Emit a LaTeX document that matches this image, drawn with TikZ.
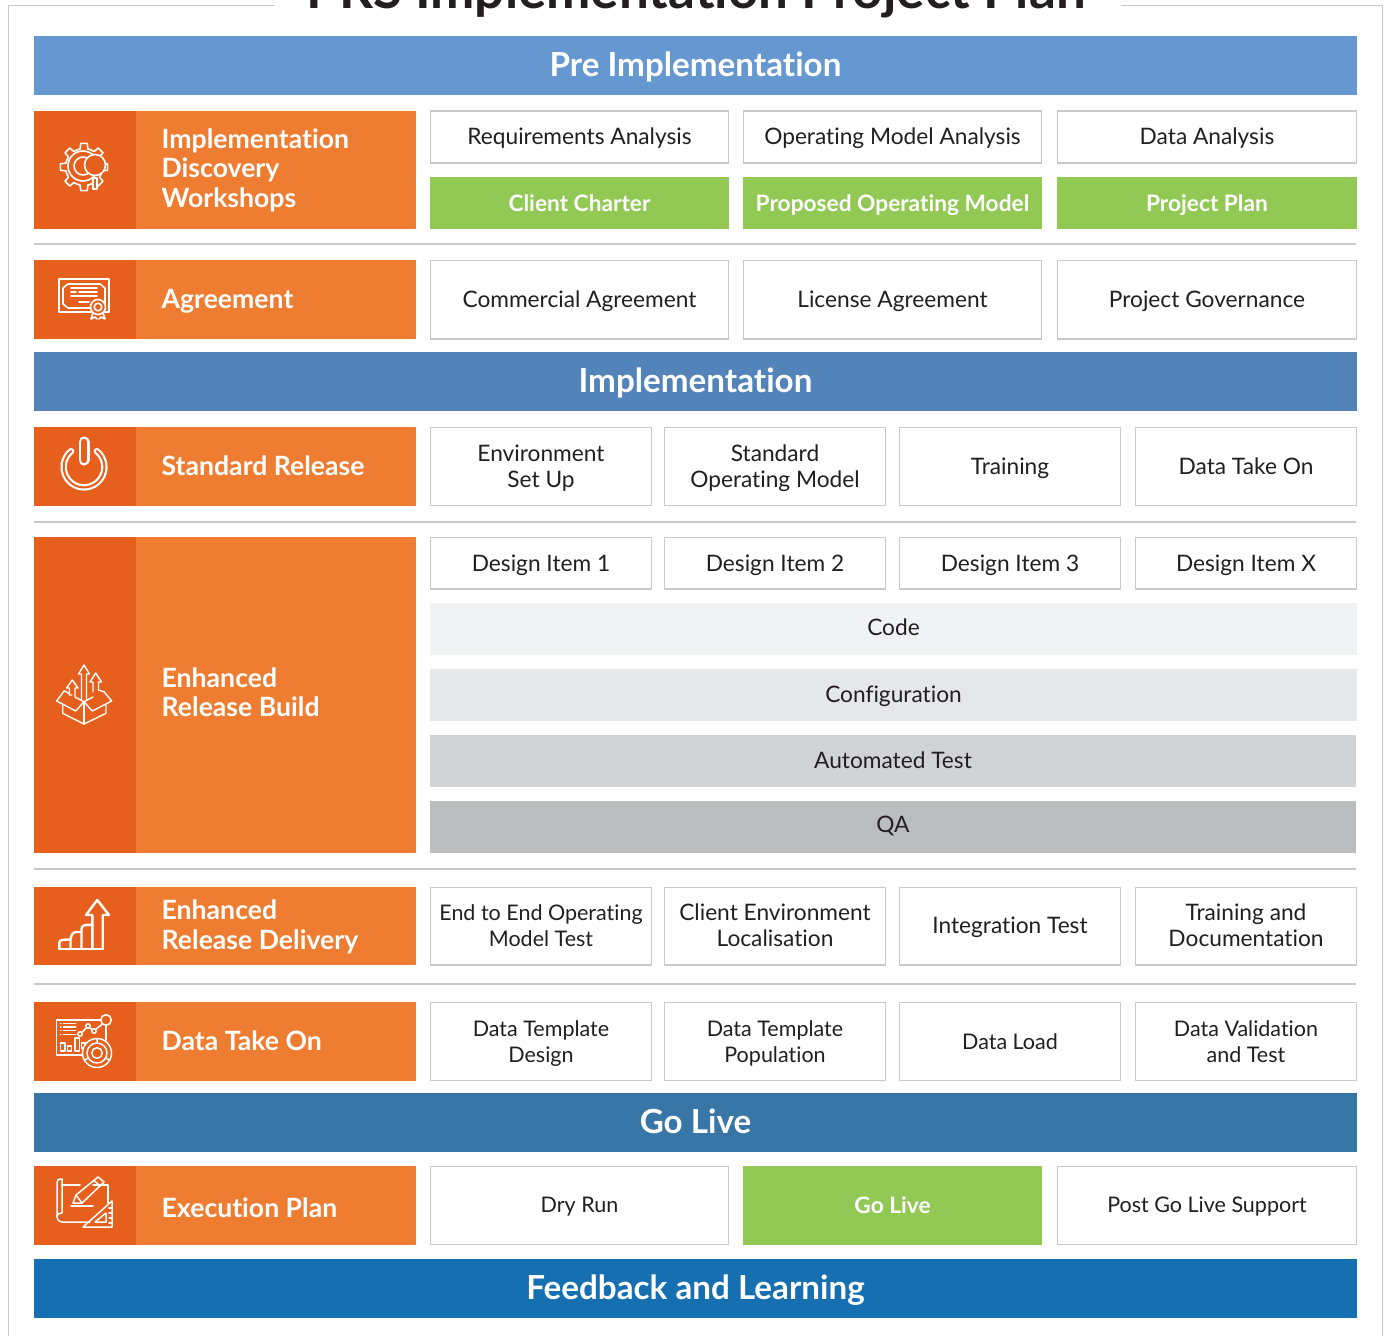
\documentclass[tikz,border=0pt]{standalone}
\usepackage{fontspec}
\setmainfont[Ligatures=NoCommon]{Lato}
\usetikzlibrary{calc}
\definecolor{dk}{HTML}{E75F1C}
\definecolor{org}{HTML}{EF7D31}
\definecolor{grn}{HTML}{92C954}
\definecolor{txt}{HTML}{231F20}
\definecolor{fr}{HTML}{C9CACC}
\definecolor{bl}{HTML}{C8C9CB}
\tikzset{
 strutted/.style 2 args={execute at begin node=\rule{0pt}{#1pt},execute at end node=\rule[-#2pt]{0pt}{#2pt}},
 cell/.style={draw=fr,line width=1.2pt,fill=white,text=txt,font=\fontsize{22.7}{26}\selectfont,align=center,inner sep=0pt,strutted={22}{6}},
 cellsm/.style={cell,font=\fontsize{21.5}{26}\selectfont},
 upper/.style={strutted={0}{8}},
 twol/.style={text=txt,font=\fontsize{22.7}{26}\selectfont,align=center,inner sep=0pt},
 twolsm/.style={twol,font=\fontsize{21.5}{26}\selectfont},
 grnc/.style={fill=grn,text=white,font=\fontsize{22.7}{26}\selectfont\bfseries,align=center,inner sep=0pt,strutted={23}{6}},
 gcell/.style={text=txt,font=\fontsize{22.7}{26}\selectfont,align=center,inner sep=0pt},
 band/.style={text=white,font=\fontsize{33.2}{36}\selectfont\bfseries,align=center,inner sep=0pt,strutted={29}{7}},
 dkb/.style={fill=dk,inner sep=0pt},
 orgb/.style={fill=org,inner sep=0pt},
 lab/.style={text=white,font=\fontsize{26.6}{29.6}\selectfont\bfseries,align=left,anchor=west,inner sep=0pt,strutted={26}{6}},
 sep/.style={draw=bl,line width=1.5pt},
 ic/.style={draw=white,line width=1.6pt,line join=round,line cap=round},
}
% \bx{name}{x0}{y0}{x1}{y1}{style}{text}
\newcommand{\bx}[7]{\pgfmathsetmacro{\bw}{#4-#2}\pgfmathsetmacro{\bh}{#5-#3}
 \node[#6,minimum width=\bw pt,minimum height=\bh pt] (#1) at ($(#2,#3)!.5!(#4,#5)$) {#7};}
\newcommand{\tline}[2]{\raisebox{#1}[0pt][0pt]{#2}}
% two-line cell: box, then its text as a node of its own, set from the last baseline
% \bxt{name}{x0}{x1}{y0}{y1}{text style}{last baseline y}{text}
\newcommand{\bxt}[8]{\bx{#1}{#2}{#4}{#3}{#5}{cell}{}
 \node[#6,anchor=base] (#1-t) at ($(#2,#7)!.5!(#3,#7)$) {#8};}
\begin{document}
\begin{tikzpicture}[x=1pt,y=-1pt]
\useasboundingbox (0,0) rectangle (1387,1336);
\clip (0,0) rectangle (1387,1336);
\fill[white] (0,0) rectangle (1387,1336);
% frame
\draw[draw=fr,line width=1.3pt] (275,5.5) -- (8.5,5.5) -- (8.5,1340);
\draw[draw=fr,line width=1.3pt] (1121,5.5) -- (1382.5,5.5) -- (1382.5,1340);
\node[text=txt,font=\fontsize{53}{53}\selectfont\bfseries,anchor=base,inner sep=0pt] (title) at (696,8) {PRS Implementation Project Plan};
% bands
\bx{b1}{34}{36}{1357}{95}{band,fill={rgb,255:red,101;green,151;blue,208}}{Pre Implementation}
\bx{b2}{34}{352}{1357}{411}{band,fill={rgb,255:red,82;green,132;blue,185}}{Implementation}
\bx{b3}{34}{1093}{1357}{1152}{band,fill={rgb,255:red,56;green,118;blue,167}}{Go Live}
\bx{b4}{34}{1259}{1357}{1318}{band,fill={rgb,255:red,21;green,111;blue,177}}{Feedback and Learning}
% separators
\draw[sep] (34,244) -- (1356,244);
\draw[sep] (34,522) -- (1356,522);
\draw[sep] (34,869) -- (1356,869);
\draw[sep] (34,984) -- (1356,984);
% left rows
\newcommand{\rowl}[5]{\bx{o#1}{136}{#2}{416}{#3}{orgb}{}\bx{d#1}{34}{#2}{136}{#3}{dkb}{}
 \node[lab] (l#1) at (161.5,#4) {#5};}
\rowl{a}{111}{229}{171}{Implementation\\Discovery\\Workshops}
\rowl{b}{260}{339}{298}{Agreement}
\rowl{c}{427}{506}{465}{Standard Release}
\rowl{d}{537}{853}{695}{Enhanced\\Release Build}
\rowl{e}{887}{965}{927.5}{Enhanced\\Release Delivery}
\rowl{f}{1002}{1081}{1040}{Data Take On}
\rowl{g}{1166}{1245}{1207}{Execution Plan}
% three-col
\bx{a1}{430.5}{111}{728.5}{163}{cell,upper}{Requirements Analysis}
\bx{a2}{743.5}{111}{1041.5}{163}{cell,upper}{Operating Model Analysis}
\bx{a3}{1057.5}{111}{1356.5}{163}{cell,upper}{Data Analysis}
\bx{a4}{430}{177}{729}{229}{grnc}{Client Charter}
\bx{a5}{743}{177}{1042}{229}{grnc}{Proposed Operating Model}
\bx{a6}{1057}{177}{1357}{229}{grnc}{Project Plan}
\bx{g1}{430.5}{260.5}{728.5}{339}{cell}{Commercial Agreement}
\bx{g2}{743.5}{260.5}{1041.5}{339}{cell}{License Agreement}
\bx{g3}{1057.5}{260.5}{1356.5}{339}{cell}{Project Governance}
% four-col
\bxt{sa}{430.5}{651.5}{427.5}{505.5}{twol}{487}{Environment\\Set Up}
\bxt{sb}{664.5}{885.5}{427.5}{505.5}{twol}{487}{Standard\\Operating Model}
\bx{sc}{899.5}{427.5}{1120.5}{505.5}{cell}{Training}
\bx{sd}{1135.5}{427.5}{1356.5}{505.5}{cell}{Data Take On}
\bx{ta}{430.5}{537.5}{651.5}{589}{cell}{Design Item 1}
\bx{tb}{664.5}{537.5}{885.5}{589}{cell}{Design Item 2}
\bx{tc}{899.5}{537.5}{1120.5}{589}{cell}{Design Item 3}
\bx{td}{1135.5}{537.5}{1356.5}{589}{cell}{Design Item X}
\bxt{ua}{430.5}{651.5}{887.5}{965}{twolsm}{946}{End to End Operating\\Model Test}
\bxt{ub}{664.5}{885.5}{887.5}{965}{twol}{946}{Client Environment\\Localisation}
\bx{uc}{899.5}{887.5}{1120.5}{965}{cell,upper}{Integration Test}
\bxt{ud}{1135.5}{1356.5}{887.5}{965}{twol}{946}{Training and\\Documentation}
\bxt{va}{430.5}{651.5}{1002.5}{1080.5}{twolsm}{1062}{Data Template\\Design}
\bxt{vb}{664.5}{885.5}{1002.5}{1080.5}{twolsm}{1062}{Data Template\\Population}
\bx{vc}{899.5}{1002.5}{1120.5}{1080.5}{cellsm}{Data Load}
\bxt{vd}{1135.5}{1356.5}{1002.5}{1080.5}{twolsm}{1062}{Data Validation\\and Test}
% full rows
\bx{w1}{430}{603}{1357}{655}{gcell,fill={rgb,255:red,241;green,242;blue,243}}{\tline{-6pt}{Code}}
\bx{w2}{430}{669}{1357}{721}{gcell,fill={rgb,255:red,230;green,231;blue,232}}{\tline{-7pt}{Configuration}}
\bx{w3}{430}{735}{1356}{787}{gcell,fill={rgb,255:red,209;green,211;blue,212}}{\tline{-7pt}{Automated Test}}
\bx{w4}{430}{801}{1356}{853}{gcell,fill={rgb,255:red,187;green,189;blue,191}}{\tline{-5.5pt}{QA}}
% last row
\bx{x1}{430.5}{1166.5}{728.5}{1244.5}{cellsm,upper}{Dry Run}
\bx{x2}{743}{1166}{1042}{1245}{grnc,upper}{Go Live}
\bx{x3}{1057.5}{1166.5}{1356.5}{1244.5}{cellsm,upper}{Post Go Live Support}
% gear
\begin{scope}[shift={(84,167)},ic]
 \foreach \a in {0,45,...,315}{
  \draw (\a-12:18.5) -- (\a-8:23.8) -- (\a+8:23.8) -- (\a+12:18.5);
  \draw (\a+12:18.5) arc[start angle=\a+12,delta angle=21,radius=18.5];
 }
 \draw (-1,-1) circle (15);
 \draw (-1,-1) circle (9);
 \draw[fill=dk] (9,11) rectangle (13,22);
 \draw[fill=dk] (11,-2) circle (10.5);
\end{scope}
% certificate
\begin{scope}[shift={(84,298)},ic]
 \draw (-25,-19) rectangle (25,14);
 \draw (-21,-10) -- (-16,-14) -- (16,-14) -- (21,-10) -- (21,6) -- (16,10) -- (-16,10) -- (-21,6) -- cycle;
 \draw (-13,-10) -- (13,-10) (-13,-6) -- (-8,-6) (-5,-6) -- (13,-6) (-13,-2) -- (13,-2) (-5,4) -- (5,4);
 \draw[fill=dk] (14,9) circle (7.5);
 \draw (14,9) circle (3.8);
 \draw (9,15) -- (7,21) -- (11,19) -- (13,21) (19,15) -- (21,21) -- (17,19) -- (15,21);
\end{scope}
% power
\draw[white,line width=6.4pt,line cap=round] (84,467) ++(-51:20.4) arc[start angle=-51,delta angle=282,radius=20.4];
\draw[dk,line width=2pt,line cap=round] (84,467) ++(-51:20.4) arc[start angle=-51,delta angle=282,radius=20.4];
\draw[white,line width=11pt,line cap=round] (84,442) -- (84,460);
\draw[dk,line width=6.4pt,line cap=round] (84,442) -- (84,460);
% box with arrows
\begin{scope}[ic,line width=1.4pt]
 \draw (72,695) -- (69.5,695) -- (69.5,688) -- (66.5,688) -- (72.3,680) -- (78,688) -- (75,688) -- (75,697);
 \draw (93,692) -- (93,682) -- (90,682) -- (95.7,673) -- (101.5,682) -- (98.5,682) -- (98.5,690);
 \draw (81.5,700) -- (81.5,674) -- (78.5,674) -- (84,665) -- (89.5,674) -- (86.5,674) -- (86.5,700);
 \draw (64.3,690.7) -- (56.7,701) -- (75.7,711) -- (84,701.7) -- (92.3,711) -- (111.7,701) -- (104,691.7);
 \draw (64.3,690.7) -- (69,693.5) (104,691.7) -- (98.5,690);
 \draw (75,697) -- (84,701.7) -- (93,697);
 \draw (62.7,704) -- (62.7,713.3) -- (84,724) -- (106,713.3) -- (106,705);
 \draw (84,702) -- (84,724);
\end{scope}
% growth bars
\begin{scope}[ic,line width=2.4pt]
 \draw (59.3,949) -- (103,949);
 \draw (59.3,949) -- (59.3,943) .. controls (59.3,940) and (62,939.5) .. (70.5,939.5) -- (70.5,949);
 \draw (70.5,939.5) .. controls (71,935) and (73,932) .. (76,932) -- (81.5,932) -- (81.5,949);
 \draw (81.5,932) -- (81.5,929) .. controls (82,925) and (85,924.5) .. (92.3,925);
 \draw (92.3,949) -- (92.3,915) -- (86,915) -- (97.3,900) -- (109,915) -- (102.7,915) -- (102.7,949);
\end{scope}
% dashboard
\begin{scope}[ic,line width=1.5pt]
 \draw (84,1055) -- (56.7,1055) -- (56.7,1020) -- (100.7,1020);
 \draw (106,1025.5) -- (106,1040);
 \foreach \y in {1023.3,1027,1030.7,1034.3}{\draw (60.5,\y) -- (61,\y) (63.5,\y) -- (75.7,\y);}
 \draw (60.7,1043) rectangle (65,1051) (67.7,1046) rectangle (71.7,1051) (75,1038) rectangle (79.3,1051) (81.7,1043) rectangle (86,1048);
 \draw (80,1034) circle (2.2) (88,1026) circle (2.2) (94,1031) circle (2.2) (106,1020) circle (5.3);
 \draw (81.7,1032.5) -- (86.5,1027.7) (89.5,1027.7) -- (92.5,1029.7) (95.5,1029.5) -- (102.5,1024);
 \draw[fill=dk] (97,1053) circle (14.5);
 \draw (97,1053) circle (10) (97,1053) circle (5.3);
 \draw (97,1038.5) -- (97,1043) (84.5,1060) -- (88.5,1058) (109.5,1060) -- (105.5,1058);
\end{scope}
% plan
\begin{scope}[ic,line width=1.5pt]
 \draw (62,1179) .. controls (58,1179) and (57,1180) .. (57,1183) -- (57,1216) .. controls (57,1220) and (59,1222) .. (63,1222) -- (90,1222);
 \draw (62,1179) -- (62,1213) .. controls (59,1213) and (57,1214) .. (57,1216);
 \draw (62,1185) -- (80,1185) (93,1185) -- (108,1185) -- (108,1203);
 \draw (73,1203) -- (76,1195) -- (98,1177) -- (104,1182) -- (82,1203) -- cycle;
 \draw (76,1195) -- (82,1203) (94,1180.5) -- (100,1186);
 \draw (71,1206) -- (93,1206);
 \draw (83,1227) -- (112,1227) -- (112,1201) -- cycle;
 \draw (95,1222) -- (106,1222) -- (106,1213) -- cycle;
 \draw (112,1208) -- (109,1208) (112,1213) -- (109,1213) (112,1218) -- (109,1218) (112,1223) -- (109,1223);
\end{scope}
\end{tikzpicture}
\end{document}
